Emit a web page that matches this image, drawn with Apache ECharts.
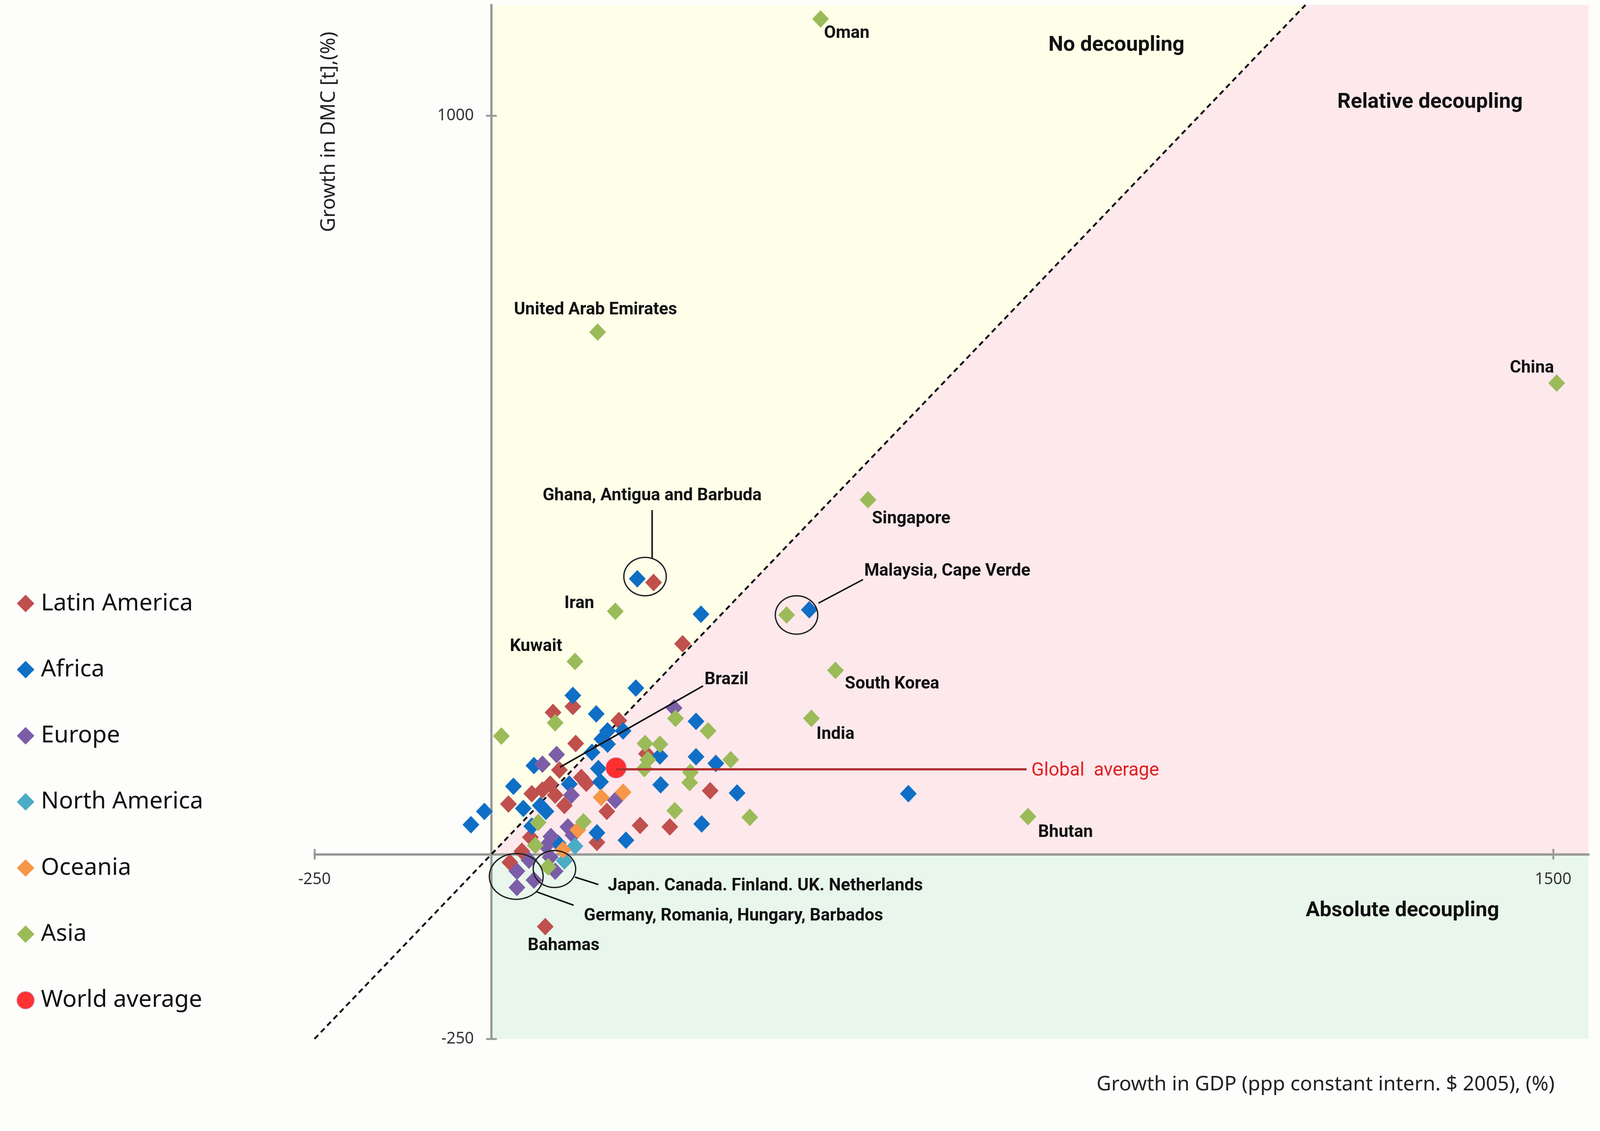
<!DOCTYPE html>
<html><head><meta charset="utf-8">
<script src="https://cdn.jsdelivr.net/npm/echarts@6/dist/echarts.min.js"></script>
<style>html,body{margin:0;padding:0;background:#fdfdfb;overflow:hidden}</style>
</head><body><div id="c"></div>
<script>
// ---- data (growth in GDP %, growth in DMC %) ----
const latinAmerica = [[229,368],[270,285],[76,-98],[115,200],[87,192],[180,181],[119,150],[96,114],[127,104],[134,96],[24,68],[57,82],[72,87],[83,95],[90,80],[103,66],[163,58],[219,136],[309,86],[210,39],[252,37],[149,16],[55,23],[43,4],[26,-11]];
const africa = [[206,373],[296,325],[449,331],[589,82],[115,215],[204,225],[148,190],[186,167],[164,167],[156,156],[164,149],[142,138],[60,120],[151,116],[154,98],[31,92],[-10,58],[-29,40],[45,62],[69,66],[77,58],[110,95],[238,133],[289,180],[289,132],[317,123],[239,94],[347,83],[297,41],[190,19],[149,29],[57,38],[94,15]];
const europe = [[258,198],[92,135],[72,122],[113,80],[175,73],[108,37],[115,26],[84,24],[77,11],[53,-8],[36,-23],[36,-45],[60,-35],[90,-23],[83,-4]];
const northAmerica = [[118,11],[103,-9]];
const oceania = [[155,77],[186,84],[122,33],[101,6]];
const asia = [[465,1131],[150,707],[1505,638],[532,480],[175,329],[417,324],[118,261],[486,249],[452,184],[758,51],[90,178],[14,160],[260,184],[306,167],[217,150],[238,149],[221,128],[216,116],[281,111],[280,97],[259,59],[365,50],[130,44],[66,43],[62,12],[80,-17],[338,128]];
const worldAverage = [[176,117]];
const xTickLabels = [-250, 1500];
const yTickLabels = [1000, -250];
const seriesNames = ['Latin America','Africa','Europe','North America','Oceania','Asia','World average'];

// ---- annotations (anchors in data units) ----
const labels = [
  ['Oman',502,1111,'b'],['No decoupling',883,1095,'h'],['Relative decoupling',1326,1018,'h'],
  ['United Arab Emirates',147,737,'b'],['China',1470,658,'b'],['Singapore',593,454,'b'],
  ['Ghana, Antigua and Barbuda',227,485,'b'],['Malaysia, Cape Verde',644,383,'b'],['Iran',124,339,'b'],
  ['Kuwait',63,281,'b'],['Brazil',332,236,'b'],['South Korea',566,230,'b'],['India',486,162,'b'],
  ['Global  average',853,113,'r'],['Bhutan',811,29,'b'],
  ['Japan. Canada. Finland. UK. Netherlands',387,-43,'b'],['Germany, Romania, Hungary, Barbados',342,-84,'b'],
  ['Bahamas',102,-124,'b'],['Absolute decoupling',1287,-77,'h']
];
const leaders = [
  [227,466,227,400,'#111'],[525,372,462,340,'#111'],[299,228,97,118,'#111'],
  [176,115,756,115,'#b03030'],[118,-31,151,-41,'#111'],[64,-51,116,-69,'#111']
];
const ellipses = [[217,376,30,26],[431,324,30,26],[35,-30,38,31],[89,-20,30,25]];
const regions = [
  {pts:[[0,0],[0,1150],[1150,1150]], color:'#fefee9'},
  {pts:[[0,0],[1150,1150],[1550,1150],[1550,0]], color:'#fde8ec'},
  {pts:[[0,0],[1550,0],[1550,-250],[0,-250]], color:'#e8f6ec'}
];
const colors = ['#c0504d','#0f6fc6','#7b5ea7','#4bacc6','#f79646','#9bbb59','#ff0000'];

// layout designed for a 4197 x 2896 frame, scaled to the real viewport width
const S = window.innerWidth/4197;
const p = v => v*S;
const el = document.getElementById('c');
el.style.width = (4197*S)+'px';
el.style.height = (2896*S)+'px';
const GL = p(825), GR = p(30), GT = p(13), GB = p(170);
const chart = echarts.init(el, null, {renderer:'canvas'});
const gw = chart.getWidth() - GL - GR, gh = chart.getHeight() - GT - GB;
const X0 = -250, X1 = 1550, Y0 = -250, Y1 = 1150;
const yOffset = -((0-X0)/(X1-X0))*gw;   // left y axis moved to x=0
const xOffset = -((0-Y0)/(Y1-Y0))*gh;   // bottom x axis moved to y=0

const groups = [latinAmerica, africa, europe, northAmerica, oceania, asia];
const scatterSeries = groups.map((g,i)=>({
  name: seriesNames[i], type:'scatter', data:g, symbol:'diamond', symbolSize:[p(44),p(46)],
  itemStyle:{color:colors[i], opacity:1}, z:5, silent:true
}));
scatterSeries.push({name:'World average', type:'scatter', data:worldAverage, symbol:'circle', symbolSize:p(54),
  itemStyle:{color:colors[6], borderColor:'#c8a0c8', borderWidth:p(2)}, z:6, silent:true});

const tickStyle = {color:'#999', width:p(5)};
const labelStyle = {margin:p(46), fontSize:p(42), fontFamily:'Noto Sans', color:'#333', formatter:v=>String(v)};
const option = {
  animation:false,
  backgroundColor:'#fdfdfb',
  grid:{left:GL, right:GR, top:GT, bottom:GB},
  xAxis:[
    {type:'value', min:X0, max:X1, interval:1750, offset:xOffset, position:'bottom', splitLine:{show:false},
     axisLine:{onZero:false, lineStyle:{color:'#999', width:p(6)}},
     axisTick:{show:true, length:p(14), lineStyle:tickStyle, customValues:xTickLabels},
     axisLabel:Object.assign({customValues:xTickLabels}, labelStyle)},
    {type:'value', min:X0, max:X1, interval:1750, position:'top', offset:-((Y1-0)/(Y1-Y0))*gh, splitLine:{show:false},
     axisLine:{show:false, onZero:false}, axisLabel:{show:false},
     axisTick:{show:true, length:p(14), lineStyle:tickStyle, customValues:xTickLabels}}
  ],
  yAxis:[
    {type:'value', min:Y0, max:Y1, interval:1250, offset:yOffset, position:'left', splitLine:{show:false},
     axisLine:{onZero:false, lineStyle:{color:'#999', width:p(6)}},
     axisTick:{show:true, length:p(14), lineStyle:tickStyle, customValues:yTickLabels},
     axisLabel:Object.assign({customValues:yTickLabels}, labelStyle)},
    {type:'value', min:Y0, max:Y1, interval:1250, position:'right', offset:-((X1-0)/(X1-X0))*gw, splitLine:{show:false},
     axisLine:{show:false, onZero:false}, axisLabel:{show:false},
     axisTick:{show:true, length:p(14), lineStyle:tickStyle, customValues:yTickLabels}}
  ],
  legend:{orient:'vertical', left:p(38), top:p(1547), itemWidth:p(46), itemHeight:p(46), itemGap:p(111),
    data:seriesNames, textStyle:{fontSize:p(62), fontFamily:'Noto Sans', color:'#111', lineHeight:p(60), padding:[0,0,0,p(12)]}},
  graphic:[
    {type:'text', x:p(863), y:p(346), rotation:Math.PI/2, style:{text:'Growth in DMC [t],(%)', fontSize:p(52), fontFamily:'Noto Sans', fill:'#222', align:'center', verticalAlign:'middle'}},
    {type:'text', x:p(4078), y:p(2846), style:{text:'Growth in GDP (ppp constant intern. $ 2005), (%)', fontSize:p(53), fontFamily:'Noto Sans', fill:'#222', align:'right', verticalAlign:'middle'}}
  ],
  series:[
    {type:'custom', silent:true, z:0, data:regions.map(()=>[0,0]), clip:false,
      renderItem:(pr,api)=>{const r=regions[pr.dataIndex];return {type:'polygon',shape:{points:r.pts.map(q=>api.coord(q))},style:{fill:r.color}};}},
    {type:'line', data:[[-250,-250],[1150,1150]], symbol:'none', silent:true, z:2,
      lineStyle:{color:'#111', width:p(5), type:[p(14),p(10)]}},
    ...scatterSeries,
    {type:'custom', silent:true, z:7, data:leaders.map(l=>[l[0],l[1]]), clip:false,
      renderItem:(pr,api)=>{const l=leaders[pr.dataIndex];const a=api.coord([l[0],l[1]]),b=api.coord([l[2],l[3]]);
        return {type:'line',shape:{x1:a[0],y1:a[1],x2:b[0],y2:b[1]},style:{stroke:l[4],lineWidth:l[4]==='#111'?p(4):p(6)}};}},
    {type:'custom', silent:true, z:8, data:ellipses.map(e=>[e[0],e[1]]), clip:false,
      renderItem:(pr,api)=>{const e=ellipses[pr.dataIndex];const c=api.coord([e[0],e[1]]);const s=api.size([e[2],e[3]]);
        const pts=[];for(let k=0;k<72;k++){const t=k/72*Math.PI*2;pts.push([c[0]+s[0]*Math.cos(t),c[1]+s[1]*Math.sin(t)]);}
        return {type:'polygon',shape:{points:pts},style:{fill:'none',stroke:'#222',lineWidth:p(3.5)}};}},
    {type:'custom', silent:true, z:9, data:labels.map(l=>[l[1],l[2]]), clip:false,
      renderItem:(pr,api)=>{const l=labels[pr.dataIndex];const c=api.coord([l[1],l[2]]);
        const st = l[3]==='h'?{fontSize:p(55),fontWeight:'bold',fill:'#111'}:(l[3]==='r'?{fontSize:p(49),fontWeight:'normal',fill:'#e02020'}:{fontSize:p(45),fontWeight:'bold',fill:'#111'});
        return {type:'text',x:c[0],y:c[1],style:Object.assign({text:l[0],fontFamily:'Roboto',align:'center',verticalAlign:'middle'},st)};}}
  ]
};
chart.setOption(option);
</script></body></html>
